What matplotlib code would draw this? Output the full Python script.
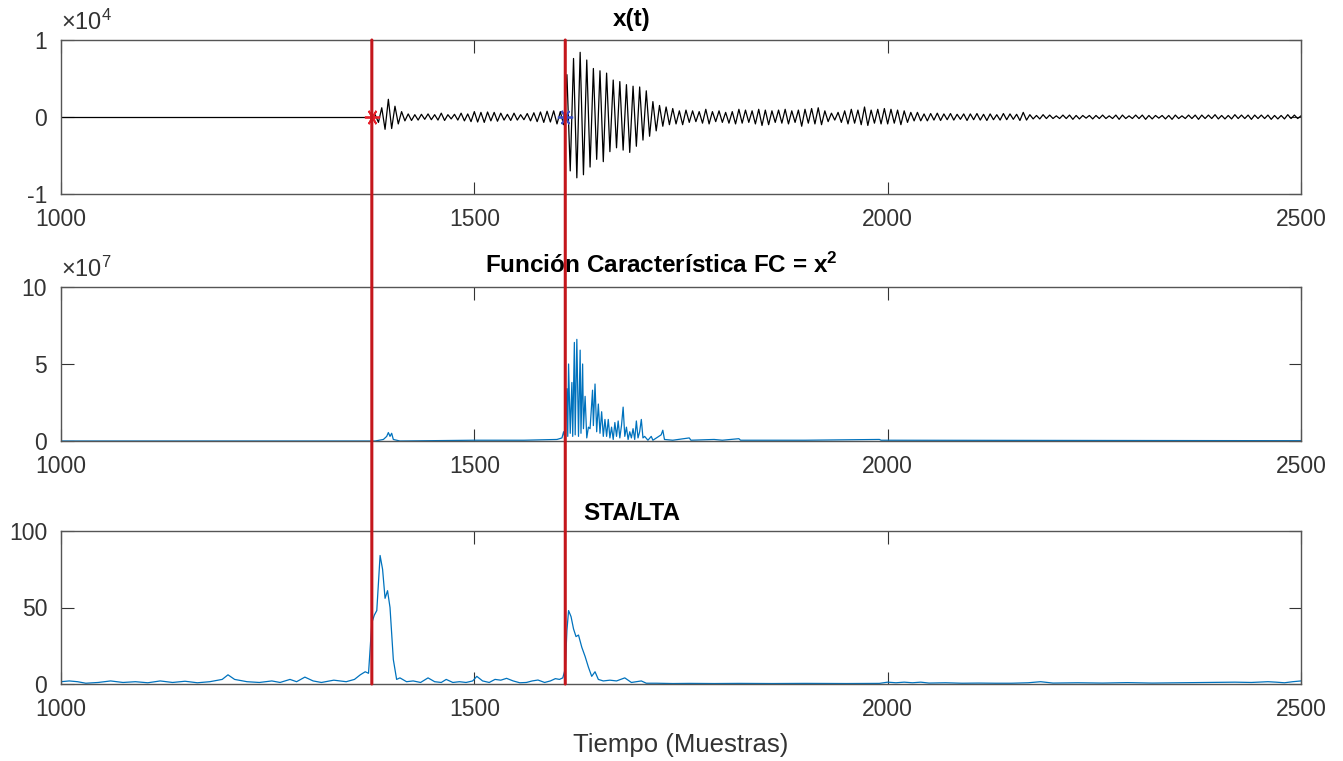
import numpy as np
import matplotlib
matplotlib.use("Agg")
import matplotlib.pyplot as plt
from matplotlib.patches import ConnectionPatch

plt.rcParams['font.family'] = ['Liberation Sans', 'DejaVu Sans']
plt.rcParams['mathtext.fontset'] = 'custom'
plt.rcParams['mathtext.rm'] = 'Liberation Sans'
plt.rcParams['mathtext.bf'] = 'Liberation Sans:bold'
plt.rcParams['mathtext.it'] = 'Liberation Sans:italic'

# ---------------- data ----------------
# x(t): quiet before the P pick, then values every 4 samples from 1376 to 2500
x_pre_samples = [1000, 1376]
x_pre_values = [0, 0]
x_samples = list(range(1376, 2501, 4))
x_values = [
    0, 300, -700, 1200, -1600, 2300, -1500, 1400, -900, 700,
    -500, 400, -450, 300, -400, 350, -300, 400, -350, 300,
    -400, 500, -450, 300, -250, 350, -400, 500, -500, 400,
    -600, 700, -650, 600, -700, 650, -500, 600, -550, 500,
    -400, 350, -450, 500, -400, 300, -350, 450, -500, 550,
    -600, 650, -700, 750, -650, 800, -900, 700, -1000, 5500,
    -7000, 7600, -7900, 8400, -7500, 7400, -6500, 6300, -5500, 6000,
    -5800, 5700, -4500, 4800, -4000, 4600, -4300, 4200, -4600, 4000,
    -3800, 3900, -3000, 3400, -2500, 2000, -1800, 1500, -1200, 1300,
    -1000, 1100, -900, 800, -1000, 900, -700, 800, -600, 700,
    -800, 1000, -900, 700, -600, 800, -700, 600, -800, 700,
    -900, 1000, -800, 900, -700, 800, -900, 1000, -1100, 900,
    -1000, 800, -700, 900, -800, 1000, -900, 800, -700, 900,
    -1200, 1000, -800, 1100, -900, 1200, -1000, 800, -600, 500,
    -400, 600, -700, 800, -900, 1000, -800, 900, -1000, 1300,
    -1100, 900, -800, 1000, -900, 1100, -900, 1000, -800, 900,
    -1000, 800, -700, 600, -500, 600, -500, 400, -500, 450,
    -400, 500, -450, 400, -350, 450, -400, 350, -300, 400,
    -450, 400, -350, 450, -400, 350, -450, 400, -350, 300,
    -400, 450, -350, 400, -300, 350, -450, 600, -400, 300,
    -250, 200, -250, 300, -200, 250, -200, 150, -200, 250,
    -200, 250, -300, 200, -250, 200, -150, 200, -250, 200,
    -200, 250, -200, 150, -200, 250, -300, 250, -200, 150,
    -200, 250, -200, 250, -300, 200, -250, 200, -150, 200,
    -250, 200, -300, 250, -200, 150, -200, 250, -200, 250,
    -300, 250, -200, 250, -200, 300, -250, 200, -250, 200,
    -250, 300, -200, 250, -200, 250, -300, 250, -200, 250,
    -200, 250, -300, 200, -250, 200, -250, 300, -200, 250,
    -200, 150,
]

# Characteristic function FC (units of 1e7)
fc_samples = [1000, 1380, 1390, 1394, 1396, 1398, 1400, 1402, 1406, 1410, 1500, 1560,
              1600, 1606, 1608, 1610, 1612, 1613, 1614, 1616, 1618, 1619, 1621, 1622,
              1624, 1626, 1628, 1629, 1631, 1632, 1634, 1636, 1638, 1640, 1643, 1644,
              1646, 1648, 1650, 1652, 1654, 1656, 1658, 1660, 1662, 1664, 1666, 1668,
              1670, 1672, 1674, 1676, 1678, 1680, 1682, 1684, 1686, 1688, 1690, 1692,
              1694, 1696, 1698, 1700, 1702, 1704, 1706, 1710, 1714, 1716, 1726, 1728,
              1730, 1740, 1760, 1762, 1790, 1800, 1820, 1822, 1900, 1990, 1992, 2500]
fc_values = [0, 0, 0.1, 0.3, 0.55, 0.3, 0.5, 0.1, 0.05, 0, 0.05, 0.05,
             0.1, 0.2, 0.6, 0.1, 3.4, 0.3, 5.0, 0.5, 3.8, 0.3, 6.4, 0.4,
             6.6, 0.3, 5.9, 0.5, 5.0, 0.8, 2.9, 0.2, 0.9, 0.8, 3.3, 1.0,
             3.7, 0.6, 2.4, 0.5, 1.9, 0.3, 1.4, 0.3, 1.4, 0.2, 0.9, 0.1,
             1.2, 0.3, 1.3, 0.2, 1.0, 2.2, 0.3, 0.9, 0.1, 0.6, 0.2, 0.8,
             0.1, 1.3, 0.2, 0.6, 1.4, 0.2, 0.3, 0.05, 0.3, 0.05, 0.4, 0.7,
             0.1, 0.05, 0.2, 0.05, 0.1, 0.05, 0.15, 0.05, 0.05, 0.1, 0.05, 0.02]

# STA/LTA ratio
sta_samples = [1000, 1010, 1020, 1030, 1045, 1060, 1075, 1090, 1105, 1120, 1135, 1150,
               1165, 1180, 1195, 1202, 1210, 1225, 1240, 1255, 1265, 1277, 1285, 1295,
               1305, 1315, 1330, 1345, 1355, 1362, 1368, 1372, 1376, 1379, 1382, 1386,
               1389, 1392, 1395, 1398, 1402, 1406, 1410, 1418, 1426, 1435, 1444, 1452,
               1460, 1466, 1474, 1482, 1490, 1498, 1503, 1510, 1518, 1525, 1532, 1539,
               1547, 1555, 1563, 1570, 1577, 1585, 1592, 1598, 1603, 1607, 1610, 1612,
               1614, 1617, 1620, 1623, 1626, 1630, 1634, 1638, 1642, 1646, 1650, 1656,
               1664, 1672, 1682, 1690, 1696, 1702, 1708, 1720, 1740, 1760, 1790, 1820,
               1860, 1900, 1950, 1990, 2000, 2010, 2020, 2030, 2040, 2050, 2070, 2090,
               2110, 2130, 2150, 2170, 2185, 2200, 2230, 2260, 2290, 2320, 2350, 2380,
               2400, 2420, 2440, 2460, 2470, 2480, 2490, 2500]
sta_values = [1.5, 2, 1.5, 0.5, 1, 2, 1, 1.5, 0.8, 2, 1, 1.8,
              0.8, 1.5, 3, 6, 3, 1.5, 1, 2, 1, 3, 1.5, 4.5,
              2, 1, 2.5, 1.5, 3, 6, 8, 7, 40, 45, 48, 84,
              75, 56, 61, 50, 16, 3, 4, 1.5, 2, 1, 4, 1.5,
              1, 3, 1, 1.5, 1, 2, 5, 2, 1, 3, 2.5, 3.7,
              2, 0.8, 1, 2, 2.6, 1, 2, 3.5, 3, 4, 10, 35,
              48, 44, 36, 31, 32, 24, 18, 11, 5, 8, 3, 2,
              2.5, 2, 4, 1, 1.5, 2, 0.5, 0.5, 0.3, 0.4, 0.3, 0.4,
              0.3, 0.4, 0.3, 0.4, 1.2, 0.8, 1.2, 0.8, 1.2, 0.6, 0.8, 0.5,
              0.6, 0.5, 0.5, 0.8, 1.5, 0.6, 0.8, 0.6, 0.9, 0.6, 0.8, 1.0,
              1.2, 1.2, 1.0, 1.5, 1.2, 0.8, 1.5, 2.0]

p_pick = 1376
s_pick = 1610

xticks = [1000, 1500, 2000, 2500]

# ---------------- figure ----------------
W, H = 1343, 761
fig = plt.figure(figsize=(W / 100, H / 100), dpi=100)

def frame(top, bottom, left=61, right=1301):
    return [left / W, 1 - bottom / H, (right - left) / W, (bottom - top) / H]

ax1 = fig.add_axes(frame(40, 194))
ax2 = fig.add_axes(frame(287, 441))
ax3 = fig.add_axes(frame(531, 684))

blue = '#0072BD'
tick_fs = 16.5
txt_col = '#333333'
title_font = dict(family=['Liberation Sans Narrow', 'Liberation Sans'], weight='bold', size=17.5)

for ax in (ax1, ax2, ax3):
    ax.set_xlim(1000, 2500)
    ax.set_xticks(xticks)
    ax.tick_params(direction='in', length=9, width=0.8, top=True, right=True,
                   labelsize=tick_fs, colors=txt_col, pad=10)
    for s in ax.spines.values():
        s.set_color('#555555')
        s.set_linewidth(1.0)

asterisk = (6, 2, 90)

# x(t)
ax1.plot(x_pre_samples, x_pre_values, color='black', lw=0.9)
ax1.plot(x_samples, x_values, color='black', lw=0.9)
ax1.plot([p_pick], [0], marker=asterisk, color='#E8202A', ms=11, mew=1.3,
         linestyle='none', zorder=12)
ax1.plot([s_pick], [0], marker=asterisk, color='#3A4FC4', ms=11, mew=1.3,
         linestyle='none', zorder=12)
ax1.set_ylim(-1e4, 1e4)
ax1.set_yticks([-1e4, 0, 1e4])
ax1.set_yticklabels(['-1', '0', '1'])
ax1.text(0.0, 1.03, r'$\times10^{4}$', transform=ax1.transAxes, fontsize=17,
         color=txt_col, ha='left', va='bottom')
ax1.text(0.46, 1.06, 'x(t)', transform=ax1.transAxes, ha='center', va='bottom',
         **title_font)

# FC
ax2.plot(fc_samples, [v * 1e7 for v in fc_values], color=blue, lw=0.9)
ax2.set_ylim(0, 1e8)
ax2.set_yticks([0, 5e7, 1e8])
ax2.set_yticklabels(['0', '5', '10'])
ax2.text(0.0, 1.03, r'$\times10^{7}$', transform=ax2.transAxes, fontsize=17,
         color=txt_col, ha='left', va='bottom')
ax2.text(0.484, 1.06, r'Función Característica FC = x$^{\mathbf{2}}$',
         transform=ax2.transAxes, ha='center', va='bottom', **title_font)

# STA/LTA
ax3.plot(sta_samples, sta_values, color=blue, lw=0.9)
ax3.set_ylim(0, 100)
ax3.set_yticks([0, 50, 100])
ax3.text(0.46, 1.04, 'STA/LTA', transform=ax3.transAxes, ha='center', va='bottom',
         **title_font)
ax3.set_xlabel('Tiempo (Muestras)', fontsize=18.5, color=txt_col, labelpad=9)

# pick lines spanning all panels
for pick in (p_pick, s_pick):
    con = ConnectionPatch(xyA=(pick, 1e4), coordsA=ax1.transData,
                          xyB=(pick, 0), coordsB=ax3.transData,
                          color='#C4161C', lw=2.2, zorder=10)
    fig.add_artist(con)

fig.savefig('out.png', dpi=100)
